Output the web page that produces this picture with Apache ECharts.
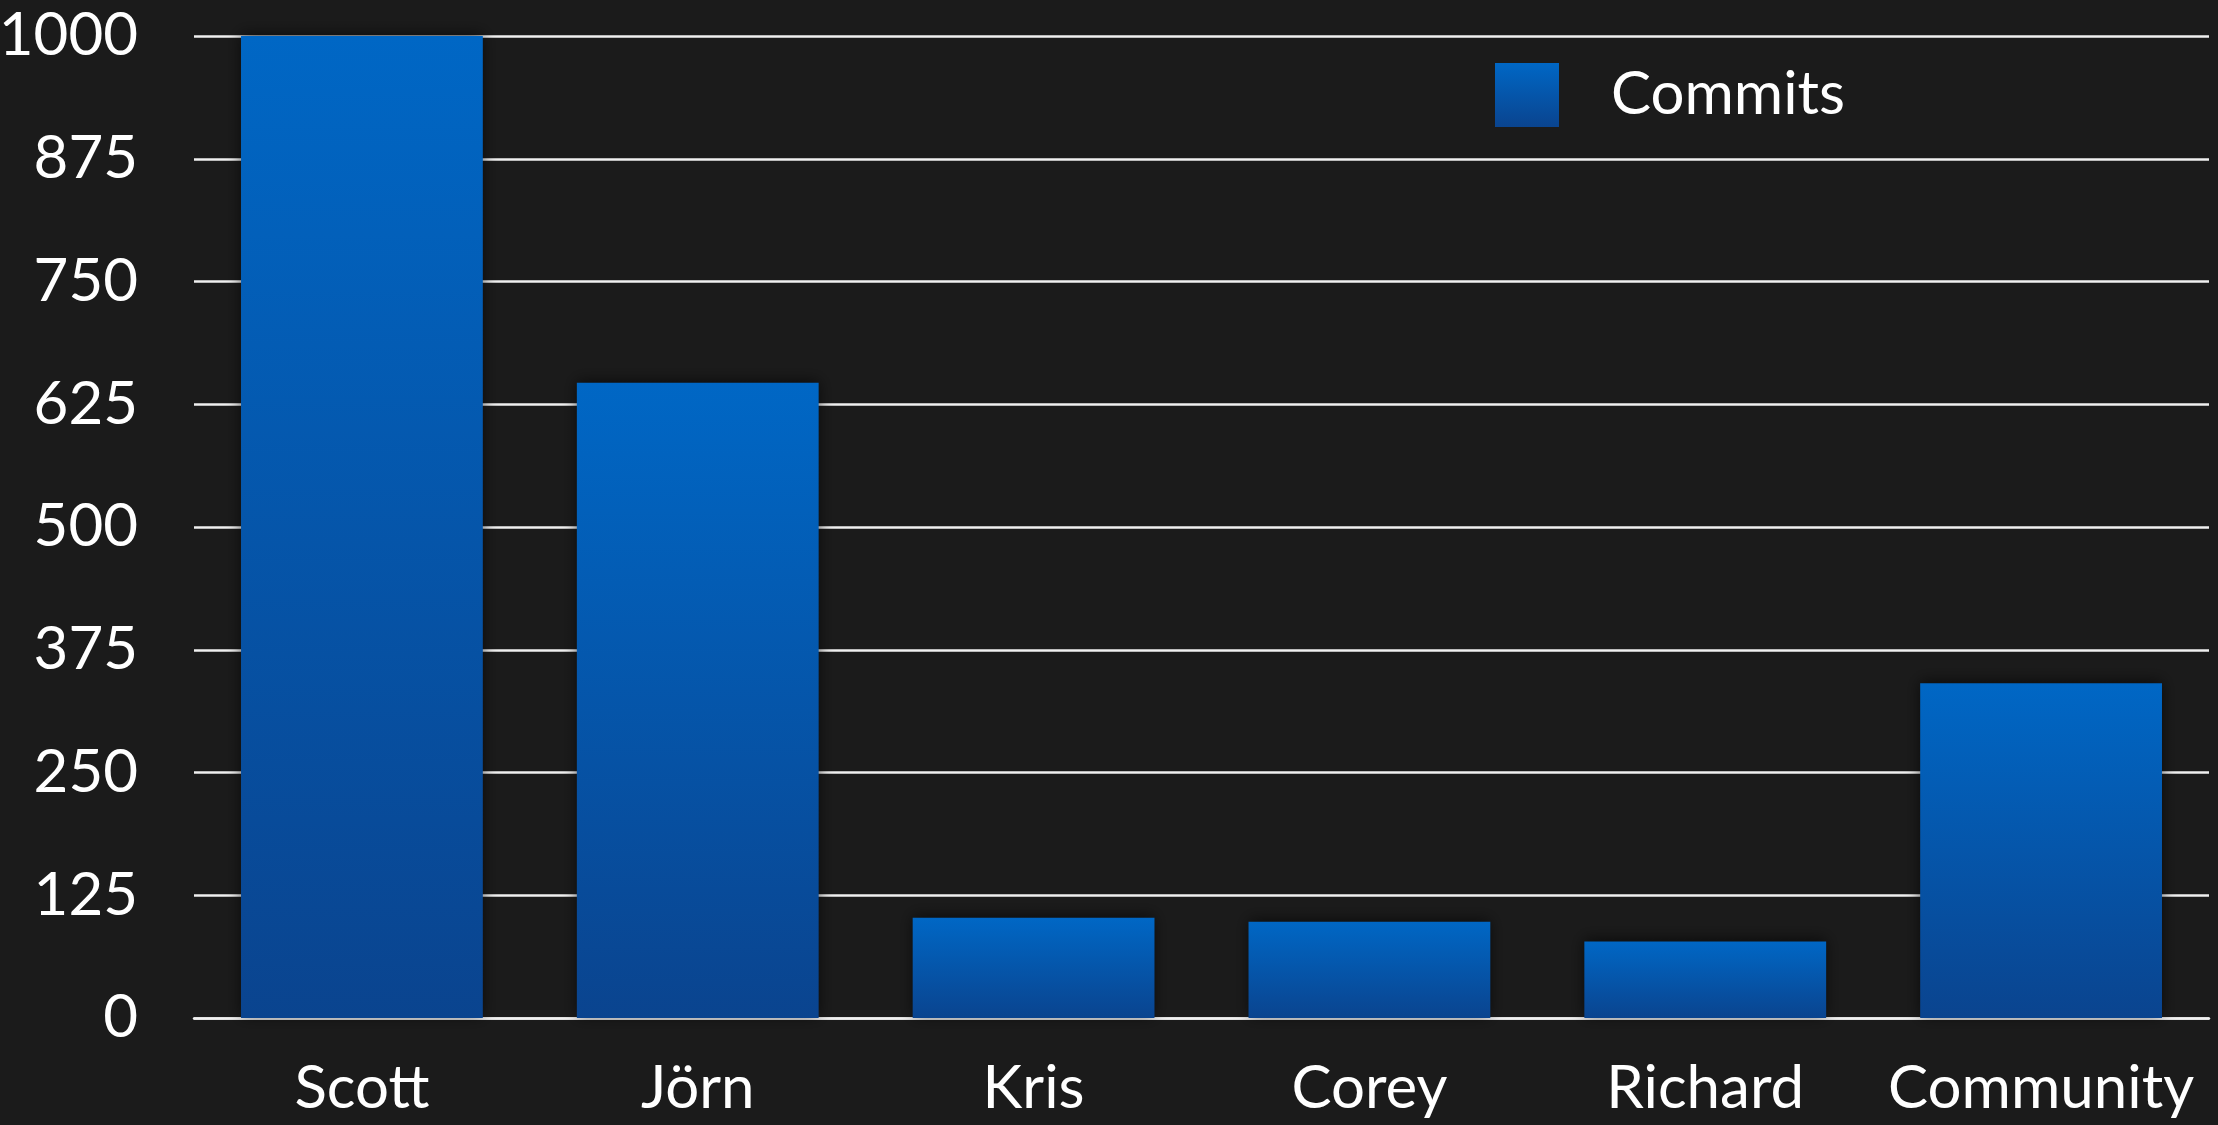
<!DOCTYPE html>
<html>
<head>
<meta charset="utf-8">
<style>
html,body{margin:0;padding:0;background:#1b1b1b;}
#c{width:2218px;height:1125px;}
</style>
<script src="https://cdn.jsdelivr.net/npm/echarts@6/dist/echarts.min.js"></script>
</head>
<body>
<div id="c"></div>
<script>
const categories = ['Scott', 'Jörn', 'Kris', 'Corey', 'Richard', 'Community'];
const commits = [1000, 647, 102, 98, 78, 341];
const yTicks = [0, 125, 250, 375, 500, 625, 750, 875, 1000];
const seriesName = 'Commits';

const FONT = 'Lato';
const chart = echarts.init(document.getElementById('c'), null, {renderer: 'canvas'});
const barGradient = new echarts.graphic.LinearGradient(0, 0, 0, 1, [
  {offset: 0, color: '#0067c5'},
  {offset: 1, color: '#0a448f'}
]);
chart.setOption({
  backgroundColor: '#1b1b1b',
  animation: false,
  grid: {left: 194, right: 9, top: 36, bottom: 107, containLabel: false, outerBoundsMode: 'none'},
  legend: {
    data: [seriesName],
    left: 1490,
    top: 58,
    itemWidth: 64,
    itemHeight: 64,
    icon: 'rect',
    textStyle: {color: '#ffffff', fontFamily: FONT, fontSize: 60, padding: [0, 0, 0, 47]}
  },
  xAxis: {
    type: 'category',
    data: categories,
    axisLine: {show: true, lineStyle: {color: '#f0f0f0', width: 2.5}},
    axisTick: {show: false},
    axisLabel: {color: '#ffffff', fontFamily: FONT, fontSize: 60, margin: 41, interval: 0}
  },
  yAxis: {
    type: 'value',
    min: yTicks[0],
    max: yTicks[yTicks.length - 1],
    interval: yTicks[1] - yTicks[0],
    axisLine: {show: false},
    axisTick: {show: false},
    axisLabel: {color: '#ffffff', fontFamily: FONT, fontSize: 60, margin: 56, formatter: v => String(v)},
    splitLine: {show: true, lineStyle: {color: '#f0f0f0', width: 2.5}}
  },
  series: [{
    name: seriesName,
    type: 'bar',
    data: commits,
    barCategoryGap: '28%',
    itemStyle: {
      color: barGradient,
      shadowColor: 'rgba(0,0,0,0.6)',
      shadowBlur: 14,
      shadowOffsetY: -2
    }
  }]
});
</script>
</body>
</html>
